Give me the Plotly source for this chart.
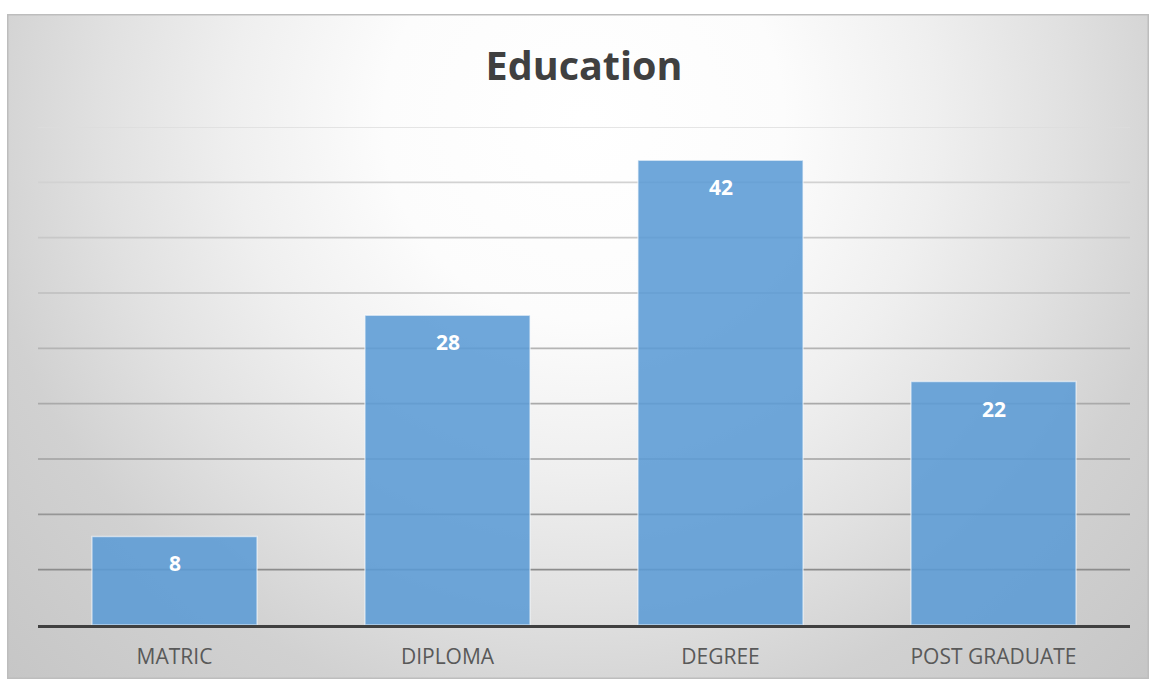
import base64
import plotly.graph_objects as go

# ---- data ----
categories = ["MATRIC", "DIPLOMA", "DEGREE", "POST GRADUATE"]
values = [8, 28, 42, 22]
grid_values = [5, 10, 15, 20, 25, 30, 35, 40, 45]
title_text = "Education"

W, H = 1149, 679
ML, MR, MT, MB = 38, 19, 127, 54
PW, PH = W - ML - MR, H - MT - MB

# frame / background (radial gradient) as an svg image
FX0, FY0, FX1, FY1 = 7, 14, 1149, 679
fw, fh = FX1 - FX0, FY1 - FY0
svg = f'''<svg xmlns="http://www.w3.org/2000/svg" width="{fw}" height="{fh}" viewBox="0 0 {fw} {fh}" preserveAspectRatio="none">
<defs><radialGradient id="g" gradientUnits="userSpaceOnUse" cx="{584-FX0}" cy="{120-FY0}" r="800">
<stop offset="0" stop-color="#ffffff"/>
<stop offset="0.25" stop-color="#fcfcfc"/>
<stop offset="0.44" stop-color="#efefef"/>
<stop offset="0.6" stop-color="#e1e1e1"/>
<stop offset="0.68" stop-color="#d9d9d9"/>
<stop offset="0.76" stop-color="#d1d1d1"/>
<stop offset="1" stop-color="#c6c6c6"/>
</radialGradient></defs>
<rect x="0" y="0" width="{fw}" height="{fh}" fill="url(#g)"/>
<rect x="0.75" y="0.75" width="{fw-1.5}" height="{fh-1.5}" fill="none" stroke="#bdbdbd" stroke-width="1.5"/>
</svg>'''
src = "data:image/svg+xml;base64," + base64.b64encode(svg.encode()).decode()

fig = go.Figure()
fig.add_trace(go.Bar(
    x=categories, y=values, width=0.605,
    marker=dict(color="rgba(91,155,213,0.88)",
                line=dict(color="rgba(255,255,255,0.55)", width=1.5)),
    hoverinfo="skip",
))

# data labels
for c, v in zip(categories, values):
    fig.add_annotation(x=c, y=v, yshift=-27, text=f"<b>{v}</b>", showarrow=False,
                       font=dict(family="Open Sans", size=21, color="white"),
                       xanchor="center", yanchor="middle")

# gradient gridlines
def lerp(a, b, t):
    return int(round(a + (b - a) * t))
for gv in grid_values:
    t = (gv - grid_values[0]) / (grid_values[-1] - grid_values[0])
    c = lerp(0x8c, 0xdc, t)
    fig.add_shape(type="line", xref="paper", yref="y", x0=0, x1=1, y0=gv, y1=gv,
                  line=dict(color=f"rgb({c},{c},{c})", width=1.6), layer="below")

fig.add_layout_image(dict(
    source=src, xref="paper", yref="paper",
    x=(FX0 - ML) / PW, y=(H - MB - FY0) / PH,
    sizex=fw / PW, sizey=fh / PH,
    xanchor="left", yanchor="top", sizing="stretch", layer="below",
))

fig.update_layout(
    width=W, height=H,
    margin=dict(l=ML, r=MR, t=MT, b=MB, autoexpand=False),
    paper_bgcolor="white", plot_bgcolor="rgba(0,0,0,0)",
    showlegend=False,
    title=dict(text=f"<b>{title_text}</b>", x=0.5, xref="paper", xanchor="center",
               y=1 - 66 / H, yanchor="middle",
               font=dict(family="Open Sans", size=39.5, color="#404040")),
    xaxis=dict(showgrid=False, zeroline=False, showline=True, linecolor="#404040",
               linewidth=3, ticks="", ticklabelstandoff=11,
               tickfont=dict(family="Open Sans", size=21, color="#595959"),
               fixedrange=True),
    yaxis=dict(range=[0, 45], showgrid=False, zeroline=False, showticklabels=False,
               showline=False, fixedrange=True),
)

fig.write_html("out.html")
